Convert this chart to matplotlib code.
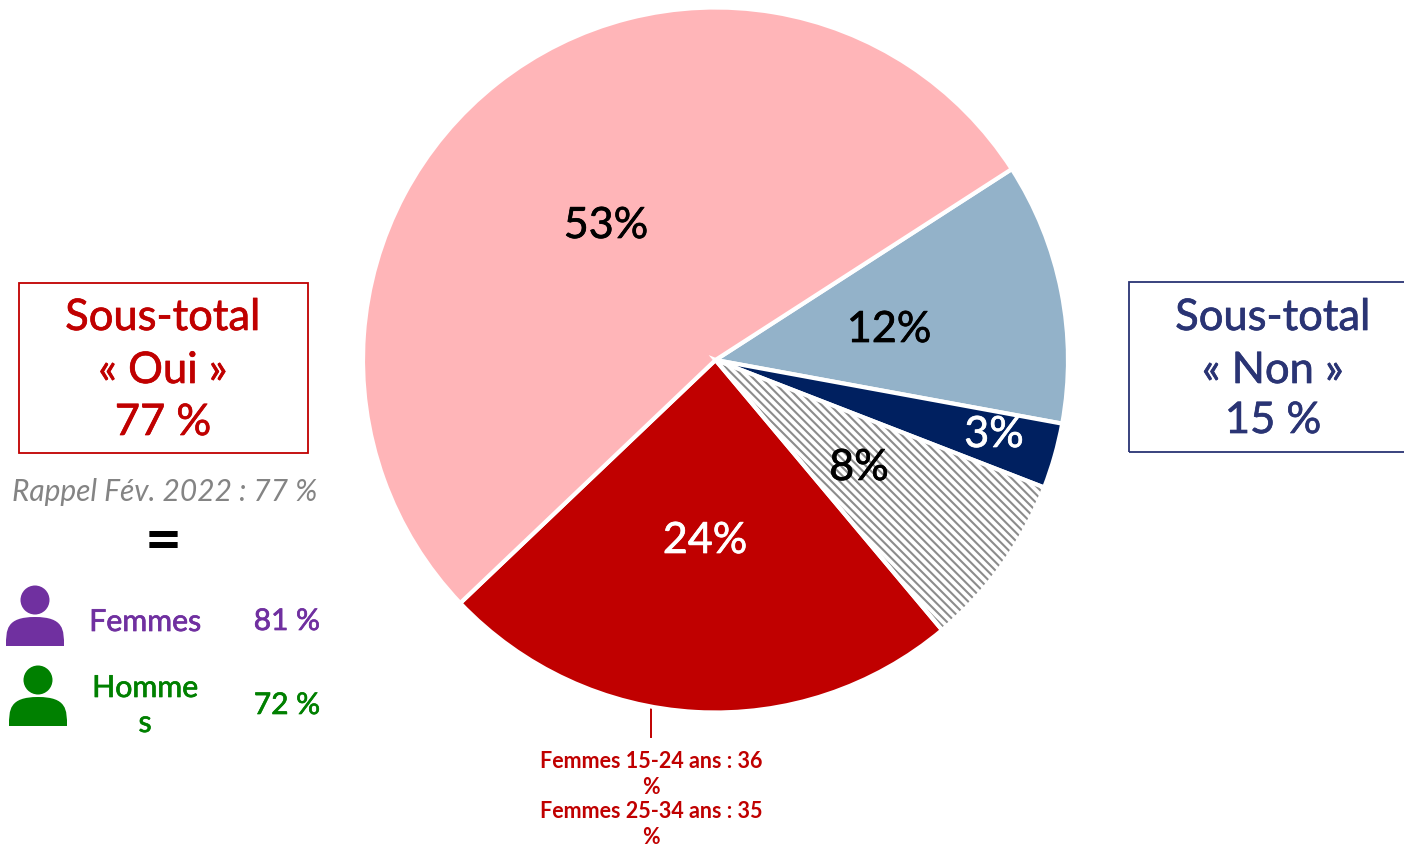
import matplotlib
matplotlib.use('Agg')
import matplotlib.pyplot as plt
import matplotlib.patheffects as pe
from matplotlib.patches import Circle, Rectangle, Wedge, PathPatch
from matplotlib.path import Path

plt.rcParams['font.family'] = ['Lato', 'DejaVu Sans']
plt.rcParams['hatch.linewidth'] = 1.5

# Data
slice_values = [12, 3, 8, 24, 53]
slice_labels = ['12%', '3%', '8%', '24%', '53%']
slice_colors = ['#93B2C9', '#002060', '#FFFFFF', '#C00000', '#FFB5B8']
label_colors = ['black', 'white', 'black', 'white', 'black']
label_pos = [(889, 330), (994, 435), (859, 468), (705, 541), (606, 226)]

RED = '#C00000'
NAVY = '#2A3474'
PURPLE = '#7030A0'
GREEN = '#008000'
GREY = '#848484'

W, H = 1404, 846


def y(py):
    return H - py


def label(px, py, text, color, size, **kw):
    # a thin stroke brings Lato closer to the heavier face of the original
    t = ax.text(px, y(py), text, color=color, fontsize=size, ha='center', va='center', zorder=5, **kw)
    t.set_path_effects([pe.withStroke(linewidth=0.5, foreground=color)])
    return t


fig = plt.figure(figsize=(W / 100, H / 100), dpi=100)
ax = fig.add_axes([0, 0, 1, 1])

# Pie chart
wedges, _ = ax.pie(slice_values, colors=slice_colors, startangle=32.8, counterclock=False,
                   center=(715.5, y(360)), radius=352.5, frame=True,
                   wedgeprops=dict(edgecolor='white', linewidth=3))

# Hatched slice: the hatch takes the edge colour, so the white outline goes on top
hatched = wedges[2]
hatched.set(edgecolor='#8C8C8C', hatch='\\\\\\\\', linewidth=0)
ax.add_patch(Wedge(hatched.center, hatched.r, hatched.theta1, hatched.theta2,
                   fill=False, edgecolor='white', linewidth=3, zorder=hatched.get_zorder() + 0.5))

ax.set_xlim(0, W)
ax.set_ylim(0, H)
ax.axis('off')

for text, color, (px, py) in zip(slice_labels, label_colors, label_pos):
    label(px, py, text, color, 31)

# Sub-total boxes
ax.add_patch(Rectangle((19, y(453)), 289, 170, fill=False, edgecolor=RED, linewidth=1.3))
ax.add_patch(Rectangle((1129, y(452)), 290, 170, fill=False, edgecolor=NAVY, linewidth=1.3))
for text, py in zip(['Sous-total', '« Oui »', '77 %'], [318, 371, 423]):
    label(163, py, text, RED, 31.3)
for text, py in zip(['Sous-total', '« Non »', '15 %'], [318, 371, 421]):
    label(1273, py, text, NAVY, 31.3)

ax.text(165, y(492), 'Rappel Fév. 2022 : 77 %', color=GREY, fontsize=21.5, style='italic',
        ha='center', va='center')
ax.text(163, y(542), '=', color='black', fontsize=46, fontweight='bold', ha='center', va='center')


# Person icons
def person(cx, top, color):
    ax.add_patch(Circle((cx, y(top + 15)), 14.5, color=color, linewidth=0))
    verts = [(cx - 29, y(top + 61)), (cx - 29, y(top + 45)), (cx - 29, y(top + 32)), (cx, y(top + 32)),
             (cx + 29, y(top + 32)), (cx + 29, y(top + 45)), (cx + 29, y(top + 61)), (cx - 29, y(top + 61))]
    codes = [Path.MOVETO, Path.CURVE4, Path.CURVE4, Path.CURVE4,
             Path.CURVE4, Path.CURVE4, Path.CURVE4, Path.CLOSEPOLY]
    ax.add_patch(PathPatch(Path(verts, codes), facecolor=color, edgecolor='none'))


person(35, 585, PURPLE)
person(38, 665, GREEN)

label(145, 622, 'Femmes', PURPLE, 21.8)
label(287, 621, '81 %', PURPLE, 21.5)
label(145, 688, 'Homme', GREEN, 21.8)
label(145, 723, 's', GREEN, 21.8)
label(287, 705, '72 %', GREEN, 21.5)

# Callout under the red slice
ax.plot([651, 651], [y(704), y(737)], color=RED, linewidth=1.4, zorder=0.5)
for text, py in zip(['Femmes 15-24 ans : 36', '%', 'Femmes 25-34 ans : 35', '%'], [762, 788, 812, 838]):
    ax.text(651, y(py), text, color=RED, fontsize=15.5, fontweight='bold', ha='center', va='center')

fig.savefig('out.png', dpi=100)
